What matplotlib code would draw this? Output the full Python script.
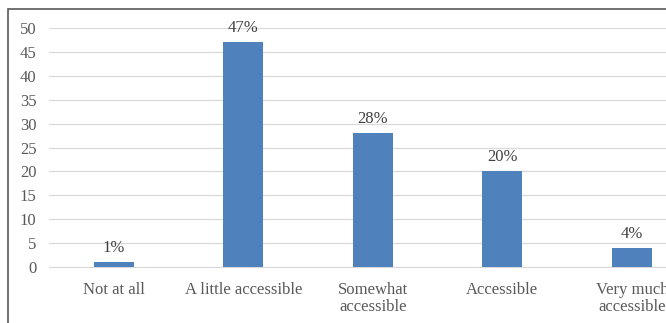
import matplotlib.pyplot as plt
import matplotlib.patches as mpatches

categories = ["Not at all", "A little accessible", "Somewhat\naccessible", "Accessible", "Very much\naccessible"]
values = [1, 47, 28, 20, 4]
labels = ["1%", "47%", "28%", "20%", "4%"]

plt.rcParams["font.family"] = "Liberation Serif"

fig = plt.figure(figsize=(6.66, 3.23), dpi=100)
W, H = 666, 323
# axes extends past the right edge (reference is cropped)
ax = fig.add_axes([49 / W, 56 / H, 647.5 / W, 239 / H])

x = range(len(categories))
bars = ax.bar(x, values, width=0.31, color="#4f81bd", zorder=3)
for b, lab in zip(bars, labels):
    ax.text(b.get_x() + b.get_width() / 2, b.get_height() + 1.3, lab,
            ha="center", va="bottom", fontsize=12, color="#404040")

ax.set_xlim(-0.5, len(categories) - 0.5)
ax.set_ylim(0, 50)
ax.set_yticks(range(0, 51, 5))
ax.set_xticks(list(x))
ax.set_xticklabels(categories, fontsize=12, color="#595959", linespacing=1.1)
ax.tick_params(axis="y", labelsize=12, labelcolor="#595959", length=0, pad=9)
ax.tick_params(axis="x", length=0, pad=11)
ax.grid(axis="y", color="#d9d9d9", lw=0.9, zorder=0)
for s in ["top", "right", "left"]:
    ax.spines[s].set_visible(False)
ax.spines["bottom"].set_color("#d9d9d9")

# outer chart border (cropped on right and bottom)
fig.patches.append(mpatches.Rectangle((8 / W, -0.1), 1.2, (H - 9) / H + 0.1,
                                      transform=fig.transFigure, fill=False,
                                      edgecolor="#595959", lw=1.2))

fig.savefig("out.png", dpi=100)
